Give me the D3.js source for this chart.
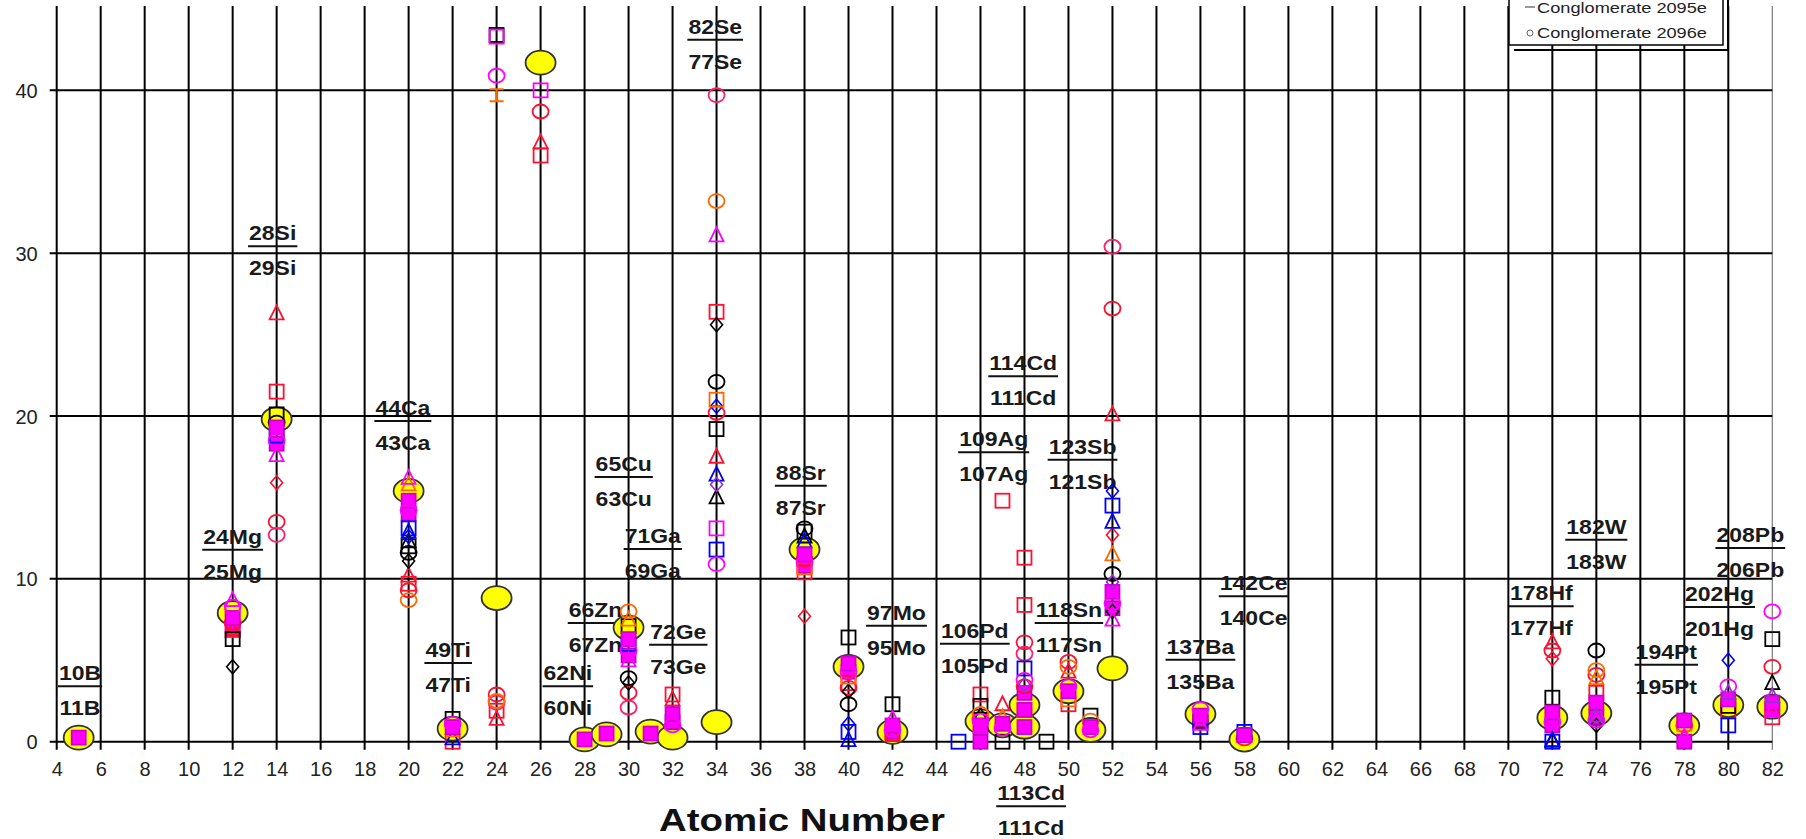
<!DOCTYPE html>
<html><head><meta charset="utf-8">
<script src="https://cdn.jsdelivr.net/npm/d3@7"></script>
<style>body{margin:0;background:#fff}svg{display:block}</style>
</head><body>
<svg id="chart" width="1806" height="839"></svg>
<script>
// ---------------- DATA ----------------
const xTicks = [4,6,8,10,12,14,16,18,20,22,24,26,28,30,32,34,36,38,40,42,44,46,48,50,52,54,56,58,60,62,64,66,68,70,72,74,76,78,80,82];
const yTicks = [0,10,20,30,40];

// isotope ratio annotations: numerator / denominator, anchor (atomic number, value)
const labelNum = ["10B","24Mg","28Si","44Ca","49Ti","62Ni","66Zn","65Cu","71Ga","72Ge","82Se","88Sr","97Mo","106Pd","109Ag","114Cd","123Sb","118Sn","113Cd","137Ba","142Ce","178Hf","182W","194Pt","202Hg","208Pb"];
const labelDen = ["11B","25Mg","29Si","43Ca","47Ti","60Ni","67Zn","63Cu","69Ga","73Ge","77Se","87Sr","95Mo","105Pd","107Ag","111Cd","121Sb","117Sn","111Cd","135Ba","140Ce","177Hf","183W","195Pt","201Hg","206Pb"];
const labelZ   = [5.06,12.0,13.82,19.74,21.8,27.24,28.5,29.78,31.1,32.26,33.94,37.83,42.18,45.74,46.6,47.94,50.64,50.02,48.3,56.0,58.42,71.5,74.0,77.18,79.6,81.0];
const labelV   = [4.2,12.59,31.22,20.49,5.63,4.2,8.09,17.05,12.63,6.75,43.9,16.52,7.92,6.82,18.57,23.24,18.12,8.09,-3.17,5.83,9.73,9.11,13.2,5.53,9.07,12.69];

// series values: [atomic number, ratio]
const natural = [[5,0.25],[12,7.9],[14,19.8],[20,15.4],[22,0.8],[24,8.82],[26,41.7],[28,0.14],[29,0.45],[30,7.0],[31,0.62],[32,0.25],[34,1.2],[38,11.8],[40,4.6],[42,0.6],[46,1.25],[47,1.0],[48,2.25],[48,0.92],[50,3.1],[51,0.72],[52,4.5],[56,1.7],[58,0.13],[72,1.47],[74,1.75],[78,1.0],[80,2.25],[82,2.15]];
const magentaFilled = [[5,0.25],[12,7.6],[14,19.3],[20,14.8],[22,0.9],[28,0.14],[29,0.5],[30,6.3],[31,0.5],[32,1.7],[38,11.5],[40,4.8],[42,1.0],[46,1.0],[47,1.1],[48,1.95],[48,0.9],[50,3.1],[51,0.9],[52,9.2],[56,1.6],[58,0.4],[72,1.8],[74,2.4],[78,1.3],[80,2.6],[82,2.4]];
const magentaFilled2 = [[12,6.9],[14,18.3],[20,14.0],[30,5.3],[32,1.2],[38,10.8],[40,4.3],[42,0.6],[46,0.0],[48,3.0],[52,8.2],[56,1.2],[72,1.0],[74,1.5],[78,0.0],[82,2.0]];
const redSquare = [[12,7.0],[14,21.5],[20,9.7],[22,0.0],[24,1.9],[26,36.0],[32,2.9],[34,26.4],[38,10.4],[40,3.6],[42,0.5],[46,2.9],[47,14.8],[48,11.3],[48,8.4],[50,2.3],[74,3.0],[80,1.9],[82,1.5]];
const redCircle = [[12,7.3],[14,13.5],[20,9.3],[24,2.9],[26,38.7],[30,3.0],[34,20.2],[38,11.2],[40,3.3],[46,1.4],[48,6.1],[48,3.4],[50,4.9],[52,26.6],[58,0.2],[72,5.6],[74,4.1],[78,1.0],[82,4.6]];
const pinkCircle = [[14,12.7],[24,2.4],[30,2.1],[34,39.7],[48,5.4],[52,30.4]];
const redTriangle = [[12,6.8],[14,26.3],[20,10.2],[24,1.4],[26,36.8],[32,2.6],[34,17.5],[42,0.4],[47,2.3],[50,4.3],[52,20.1],[72,6.1]];
const redDiamond = [[14,15.9],[38,7.7],[52,12.7],[72,5.1]];
const magentaSquare = [[24,43.3],[26,40.0],[34,13.1]];
const blackSquare = [[12,6.3],[14,20.1],[20,12.0],[22,1.4],[24,43.4],[30,7.1],[34,19.2],[38,12.9],[40,6.4],[42,2.3],[46,2.2],[47,0.0],[49,0.0],[51,1.6],[56,1.3],[72,2.7],[80,2.2],[82,6.3]];
const blackCircle = [[14,19.6],[20,11.6],[30,3.9],[34,22.1],[38,13.1],[40,2.3],[52,10.3],[74,5.6]];
const blackDiamond = [[12,4.6],[20,11.1],[30,3.6],[34,25.6],[40,3.1],[52,8.0],[74,1.0]];
const blackTriangle = [[20,12.3],[34,15.0],[38,12.6],[46,1.6],[72,0.1],[82,3.6]];
const blueSquare = [[14,18.8],[20,13.1],[30,6.0],[34,11.8],[40,0.6],[45,0.0],[48,4.5],[52,14.5],[56,0.9],[58,0.6],[72,0.0],[80,1.0]];
const blueDiamond = [[20,12.6],[34,20.6],[40,1.1],[52,15.4],[80,5.0]];
const blueTriangle = [[20,12.9],[22,0.2],[34,16.4],[38,12.3],[40,0.1],[52,13.5],[72,0.05]];
const magentaCircle = [[12,8.3],[14,18.5],[20,14.2],[22,1.1],[24,40.9],[30,5.6],[32,1.0],[34,10.9],[38,11.0],[40,4.3],[42,0.7],[46,1.3],[47,0.8],[48,3.8],[50,3.4],[51,0.7],[52,8.5],[56,2.0],[72,1.2],[74,1.3],[80,3.4],[82,8.0]];
const magentaTriangle = [[12,8.7],[14,17.6],[20,16.2],[30,5.0],[34,31.1],[42,1.4],[46,0.9],[52,7.5],[56,1.1],[78,0.3],[82,1.9]];
const purpleDiamond = [[34,15.8],[48,3.5],[52,9.8]];
const purpleTriangle = [[74,1.6],[80,3.0],[82,2.8]];
const orangeSquare = [[12,7.9],[34,21.0],[38,10.7],[40,4.0],[48,1.95],[50,2.6],[78,1.1]];
const orangeCircle = [[20,8.7],[24,2.5],[30,8.0],[34,33.2],[46,1.7],[50,4.6],[51,1.3],[74,4.4]];
const orangeTriangle = [[20,15.8],[30,7.5],[47,1.5],[52,11.5],[74,3.9]];
const orangeDash = [[5,0.3],[22,0.7],[24,39.7]];

const legendNames = ["Conglomerate 2095e","Conglomerate 2096e"];

// ---------------- STYLES ----------------
const seriesList = [
  {data: natural, shape:"big", fill:"#ffff00", stroke:"#333"},
  {data: magentaFilled2, shape:"square", fill:"#ff00ff", stroke:"#c000c0"},
  {data: redSquare, shape:"square", fill:"none", stroke:"#ff1030"},
  {data: redCircle, shape:"circle", fill:"none", stroke:"#ff1030"},
  {data: pinkCircle, shape:"circle", fill:"none", stroke:"#ff2070"},
  {data: redTriangle, shape:"triangle", fill:"none", stroke:"#ff1030"},
  {data: redDiamond, shape:"diamond", fill:"none", stroke:"#ff1030"},
  {data: blackSquare, shape:"square", fill:"none", stroke:"#000"},
  {data: blackCircle, shape:"circle", fill:"none", stroke:"#000"},
  {data: blackDiamond, shape:"diamond", fill:"none", stroke:"#000"},
  {data: blackTriangle, shape:"triangle", fill:"none", stroke:"#000"},
  {data: blueSquare, shape:"square", fill:"none", stroke:"#0000ff"},
  {data: blueDiamond, shape:"diamond", fill:"none", stroke:"#0000ff"},
  {data: blueTriangle, shape:"triangle", fill:"none", stroke:"#0000ff"},
  {data: orangeSquare, shape:"square", fill:"none", stroke:"#ff6a00"},
  {data: orangeCircle, shape:"circle", fill:"none", stroke:"#ff6a00"},
  {data: orangeTriangle, shape:"triangle", fill:"none", stroke:"#ff6a00"},
  {data: orangeDash, shape:"dash", fill:"none", stroke:"#ff6a00"},
  {data: magentaFilled, shape:"square", fill:"#ff00ff", stroke:"#d000d0"},
  {data: magentaSquare, shape:"square", fill:"none", stroke:"#ff00ff"},
  {data: magentaCircle, shape:"circle", fill:"none", stroke:"#ff00ff"},
  {data: magentaTriangle, shape:"triangle", fill:"none", stroke:"#ff00ff"},
  {data: purpleDiamond, shape:"diamond", fill:"none", stroke:"#9a30d0"},
  {data: purpleTriangle, shape:"triangle", fill:"none", stroke:"#9a30d0"}
];

// ---------------- LAYOUT ----------------
const svg = d3.select("#chart");
const X0 = 56.7, X1 = 1772.3, Y0 = 741.7, YT = 6;
const x = d3.scaleLinear().domain([4,82]).range([X0,X1]);
const y = d3.scaleLinear().domain([0,45.18]).range([Y0,YT]);

svg.append("rect").attr("width",1806).attr("height",839).attr("fill","#fff");

// vertical gridlines
svg.append("g").selectAll("line").data(xTicks).join("line")
  .attr("x1",d=>x(d)).attr("x2",d=>x(d))
  .attr("y1",YT).attr("y2",Y0+8)
  .attr("stroke",d=>d===82?"#777":"#000")
  .attr("stroke-width",d=>d===82?1.2:2);
// horizontal gridlines
svg.append("g").selectAll("line").data(yTicks).join("line")
  .attr("x1",X0-7).attr("x2",X1)
  .attr("y1",d=>y(d)).attr("y2",d=>y(d))
  .attr("stroke","#000").attr("stroke-width",2);

// axes with d3 (labels only)
const xAxis = d3.axisBottom(x).tickValues(xTicks).tickSize(0).tickPadding(0);
const gx = svg.append("g").attr("transform",`translate(0,${Y0})`).call(xAxis);
gx.select(".domain").remove();
gx.selectAll("text").attr("font-family","Liberation Sans, Arial, sans-serif")
  .attr("font-size",20).attr("fill","#222").attr("dy",null).attr("y",34);

const yAxis = d3.axisLeft(y).tickValues(yTicks).tickSize(0).tickPadding(0);
const gy = svg.append("g").attr("transform",`translate(${X0-19},0)`).call(yAxis);
gy.select(".domain").remove();
gy.selectAll("text").attr("font-family","Liberation Sans, Arial, sans-serif")
  .attr("font-size",20).attr("fill","#222").attr("dy","0.35em");

// isotope labels
const lab = svg.append("g").attr("font-family","Liberation Sans, Arial, sans-serif")
  .attr("font-size",20).attr("font-weight","bold").attr("fill","#1a1a1a");
labelNum.forEach((num,i)=>{
  const cx = x(labelZ[i]), cy = y(labelV[i]);
  const g = lab.append("g").attr("transform",`translate(${cx},${cy})`);
  const inner = g.append("g").attr("transform","scale(1.15,1)");
  const t1 = inner.append("text").attr("text-anchor","middle").attr("y",7).text(num);
  inner.append("text").attr("text-anchor","middle").attr("y",42).text(labelDen[i]);
  const w = t1.node().getComputedTextLength()*1.15;
  g.append("line").attr("x1",-w/2-1).attr("x2",w/2+1).attr("y1",13).attr("y2",13)
    .attr("stroke","#111").attr("stroke-width",2);
});

// markers
function drawMarker(g, shape, fill, stroke){
  if(shape==="big"){
    g.append("ellipse").attr("rx",15).attr("ry",12).attr("fill",fill).attr("stroke",stroke).attr("stroke-width",1.8);
  } else if(shape==="square"){
    g.append("rect").attr("x",-7).attr("y",-7).attr("width",14).attr("height",14)
      .attr("fill",fill).attr("stroke",stroke).attr("stroke-width",1.8);
  } else if(shape==="circle"){
    g.append("ellipse").attr("rx",8).attr("ry",7).attr("fill",fill).attr("stroke",stroke).attr("stroke-width",1.8);
  } else if(shape==="triangle"){
    g.append("path").attr("d","M0,-8L7,6L-7,6Z").attr("fill",fill).attr("stroke",stroke).attr("stroke-width",1.8);
  } else if(shape==="diamond"){
    g.append("path").attr("d","M0,-7L6,0L0,7L-6,0Z").attr("fill",fill).attr("stroke",stroke).attr("stroke-width",1.6);
  } else if(shape==="dash"){
    g.append("path").attr("d","M-7,-6H7M0,-6V6M-7,6H7").attr("fill","none").attr("stroke",stroke).attr("stroke-width",1.8);
  }
}
const mk = svg.append("g");
seriesList.forEach(s=>{
  const gs = mk.append("g");
  s.data.forEach(([z,v])=>{
    const g = gs.append("g").attr("transform",`translate(${x(z)},${y(v)})`);
    drawMarker(g, s.shape, s.fill, s.stroke);
  });
});

// axis title
svg.append("g").attr("transform",`translate(802,831) scale(1.2,1)`)
  .append("text").attr("text-anchor","middle")
  .attr("font-family","Liberation Sans, Arial, sans-serif").attr("font-weight","bold")
  .attr("font-size",32).attr("fill","#111").text("Atomic Number");

// legend (top of box lies above the picture)
const lg = svg.append("g");
lg.append("polyline").attr("points","1728,-5 1728,50 1514,50").attr("fill","none").attr("stroke","#000").attr("stroke-width",2);
lg.append("rect").attr("x",1509).attr("y",-25).attr("width",214).attr("height",70)
  .attr("fill","#fff").attr("stroke","#000").attr("stroke-width",1.5);
lg.append("line").attr("x1",1525).attr("x2",1535).attr("y1",7).attr("y2",7).attr("stroke","#555").attr("stroke-width",1.2);
lg.append("circle").attr("cx",1530).attr("cy",33).attr("r",3).attr("fill","none").attr("stroke","#666").attr("stroke-width",1);
lg.selectAll("text.lt").data(legendNames).join("text").attr("class","lt")
  .attr("x",1537).attr("y",(d,i)=>13+i*25)
  .attr("font-family","Liberation Sans, Arial, sans-serif").attr("font-size",14)
  .attr("fill","#222").attr("textLength",170).attr("lengthAdjust","spacingAndGlyphs")
  .text(d=>d);
</script>
</body></html>
